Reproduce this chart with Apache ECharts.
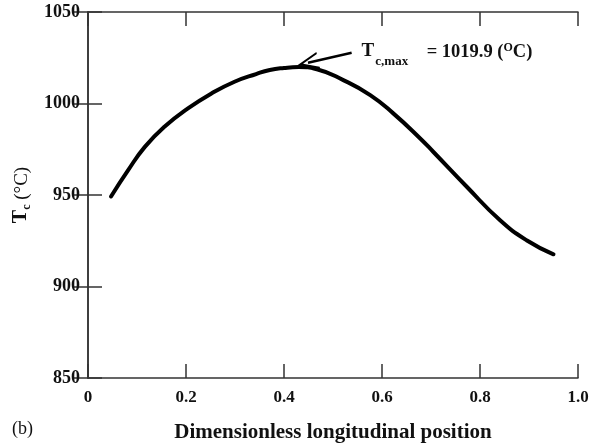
<!DOCTYPE html>
<html>
<head>
<meta charset="utf-8">
<script src="https://cdn.jsdelivr.net/npm/echarts@6/dist/echarts.min.js"></script>
<style>
  html, body { margin: 0; padding: 0; background: #fff; }
  #chart { width: 599px; height: 444px; }
</style>
</head>
<body>
<div id="chart"></div>
<script>
// Centre-line temperature along the reactor length
const position = [0.047, 0.082, 0.116, 0.156, 0.204, 0.252, 0.299, 0.343, 0.371, 0.400,
                  0.430, 0.467, 0.521, 0.576, 0.623, 0.678, 0.705, 0.773, 0.841, 0.895, 0.950];
const tempC = [949.2, 963.6, 976.3, 987.3, 997.3, 1005.5, 1011.9, 1016.1, 1018.3, 1019.4,
               1019.9, 1018.7, 1012.8, 1004.6, 994.6, 980.9, 973.5, 954.5, 936.2, 925.3, 917.6];

// Axis ranges and ticks
const xTicks = [0, 0.2, 0.4, 0.6, 0.8, 1.0];
const yTicks = [850, 900, 950, 1000, 1050];

// Peak annotation: arrow from the label towards the maximum
const peakValue = 1019.9;
const arrowFrom = [0.538, 1027.7];
const arrowTo = [0.449, 1022.3];

const serif = '"Liberation Serif", "DejaVu Serif", serif';
const ink = '#111';

const chart = echarts.init(document.getElementById('chart'));

const boxAxisLine = { show: true, lineStyle: { color: '#333', width: 1.5 } };
const inTicks = { show: true, inside: true, length: 14, lineStyle: { color: '#333', width: 1.5 } };

chart.setOption({
  animation: false,
  backgroundColor: '#fff',
  grid: { left: 88, top: 12, width: 490, height: 366, containLabel: false, outerBoundsMode: 'none' },
  xAxis: [{
    type: 'value',
    min: xTicks[0], max: xTicks[xTicks.length - 1], interval: 0.2,
    axisLine: boxAxisLine, axisTick: inTicks, splitLine: { show: false },
    axisLabel: {
      margin: 11, color: ink, fontFamily: serif, fontWeight: 'bold', fontSize: 17,
      formatter: v => (v === 0 ? '0' : v.toFixed(1))
    },
    name: 'Dimensionless longitudinal position',
    nameLocation: 'middle', nameGap: 44,
    nameTextStyle: { color: ink, fontFamily: serif, fontWeight: 'bold', fontSize: 21 }
  }, {
    type: 'value', position: 'top',
    min: xTicks[0], max: xTicks[xTicks.length - 1], interval: 0.2,
    axisLine: boxAxisLine, axisTick: inTicks, axisLabel: { show: false }, splitLine: { show: false }
  }],
  yAxis: [{
    type: 'value',
    min: yTicks[0], max: yTicks[yTicks.length - 1], interval: 50,
    axisLine: boxAxisLine, axisTick: inTicks, splitLine: { show: false },
    axisLabel: {
      margin: 8, color: ink, fontFamily: serif, fontWeight: 'bold', fontSize: 18,
      formatter: v => String(v)
    },
    name: '{t|T}{s|c}{u| (°C)}',
    nameLocation: 'middle', nameGap: 52, nameRotate: 90,
    nameTextStyle: {
      rich: {
        t: { fontFamily: serif, fontWeight: 'bold', fontSize: 20, color: ink, lineHeight: 22, verticalAlign: 'top' },
        s: { fontFamily: serif, fontWeight: 'bold', fontSize: 12, color: ink, lineHeight: 22, verticalAlign: 'bottom', padding: [8, 0, 0, 0] },
        u: { fontFamily: serif, fontSize: 19, color: ink, lineHeight: 22 }
      }
    }
  }, {
    type: 'value', position: 'right',
    min: yTicks[0], max: yTicks[yTicks.length - 1], interval: 50,
    axisLine: boxAxisLine, axisTick: inTicks, axisLabel: { show: false }, splitLine: { show: false }
  }],
  series: [{
    type: 'line',
    data: position.map((x, i) => [x, tempC[i]]),
    smooth: 0.5,
    showSymbol: false,
    lineStyle: { color: '#000', width: 4, cap: 'round' },
    markLine: {
      silent: true,
      symbol: ['none', 'path://M0,14 L7,0 L14,14 L12.3,14 L7,3.6 L1.7,14 Z'],
      symbolSize: [17, 21],
      lineStyle: { color: '#000', width: 2.5, type: 'solid' },
      label: { show: false },
      data: [[{ coord: arrowFrom }, { coord: arrowTo }]]
    },
    markPoint: {
      silent: true,
      symbol: 'circle', symbolSize: 0,
      data: [{ coord: arrowFrom, value: peakValue }],
      label: {
        show: true, position: 'right', distance: 10, offset: [0, 2],
        formatter: p => '{t|T}{s|c,max}{e|    = ' + p.value.toFixed(1) + ' (}{o|O}{e|C)}',
        rich: {
          t: { fontFamily: serif, fontWeight: 'bold', fontSize: 19, color: ink, lineHeight: 26, verticalAlign: 'top' },
          s: { fontFamily: serif, fontWeight: 'bold', fontSize: 13, color: ink, lineHeight: 26, verticalAlign: 'bottom', padding: [11, 0, 0, 1] },
          e: { fontFamily: serif, fontWeight: 'bold', fontSize: 18.5, color: ink, lineHeight: 26, verticalAlign: 'top', padding: [1, 0, 0, 0] },
          o: { fontFamily: serif, fontWeight: 'bold', fontSize: 12, color: ink, lineHeight: 26, verticalAlign: 'top' }
        }
      }
    }
  }],
  graphic: [{
    type: 'text', left: 12, top: 420,
    style: { text: '(b)', font: '18px ' + serif, fill: ink }
  }]
});
</script>
</body>
</html>
